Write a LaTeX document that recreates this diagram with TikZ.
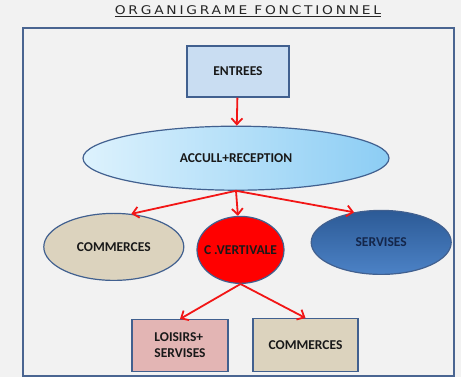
\documentclass[tikz,border=0pt]{standalone}
\usepackage{fontspec}
\setmainfont{Carlito}
\newfontfamily\titlefont{DejaVu Sans}[LetterSpace=20]
\usetikzlibrary{arrows.meta,positioning,shapes.geometric}
\definecolor{bgcol}{HTML}{F2F2F2}
\definecolor{framecol}{HTML}{4A6591}
\definecolor{edgecol}{HTML}{41608F}
\definecolor{arrowred}{HTML}{F21616}
\definecolor{entreecol}{HTML}{C9DDF2}
\definecolor{toilecol}{HTML}{DCD3BE}
\definecolor{loisircol}{HTML}{E3B5B4}
\definecolor{navycol}{HTML}{14264A}
\definecolor{accleft}{HTML}{DDF2FD}
\definecolor{accright}{HTML}{8CCDF4}
\definecolor{servtop}{HTML}{2C5A96}
\definecolor{servbot}{HTML}{4C82C6}

\begin{document}
\begin{tikzpicture}[x=1pt, y=1pt, node distance=25pt,
  lbl/.style = {font=\bfseries\fontsize{13.5}{16}\selectfont, text=black!90},
  box/.style = {lbl, draw=edgecol, line width=1.2pt, rectangle},
  oval/.style = {lbl, draw=edgecol, line width=1.2pt, ellipse, inner xsep=-16pt, inner ysep=-2pt},
  link/.style = {-{Straight Barb[length=6pt,width=11pt]}, draw=arrowred, line width=1.8pt}]
  % fond et cadre
  \fill[bgcol] (0,0) rectangle (461,377);
  \useasboundingbox (0,0) rectangle (461,377);
  \draw[framecol, line width=2pt] (23,1) rectangle (454,349);

  \node[font=\titlefont\fontsize{12}{14}\selectfont, text=black!85, xscale=1.15, transform shape] (titre) at (248,366) {\underline{ORGANIGRAME FONCTIONNEL}};

  \node[box, fill=entreecol, minimum width=102pt, minimum height=51pt] (ent) at (238,305.5) {ENTREES};
  \node[oval, left color=accleft, right color=accright, minimum width=306pt, minimum height=64pt] (acc) [below=28pt of ent, xshift=-2pt] {ACCULL+RECEPTION};
  \node[oval, fill=red, minimum width=87pt, minimum height=67pt] (cv) [below=25pt of acc, xshift=4.5pt] {C .VERTIVALE};
  \node[oval, fill=toilecol, minimum width=140pt, minimum height=67pt] (com1) [left=12pt of cv, yshift=3pt] {COMMERCES};
  \node[oval, top color=servtop, bottom color=servbot, text=navycol, minimum width=140pt, minimum height=64pt] (serv) [right=26pt of cv, yshift=7.5pt] {SERVISES};
  \node[box, fill=loisircol, align=left, minimum width=96pt, minimum height=52pt] (lois) [below=35pt of cv, xshift=-60.5pt] {LOISIRS+\\SERVISES};
  \node[box, fill=toilecol, minimum width=105pt, minimum height=53pt] (com2) [below=34pt of cv, xshift=65pt] {COMMERCES};

  \draw[link] (ent) -- (acc);
  \draw[link] (acc.south) -- (com1.62);
  \draw[link] (acc.south) -- (cv);
  \draw[link] (acc.south) -- (serv.132);
  \draw[link] (cv.south) -- (lois.north);
  \draw[link] (cv.south) -- (com2.north);
\end{tikzpicture}
\end{document}
